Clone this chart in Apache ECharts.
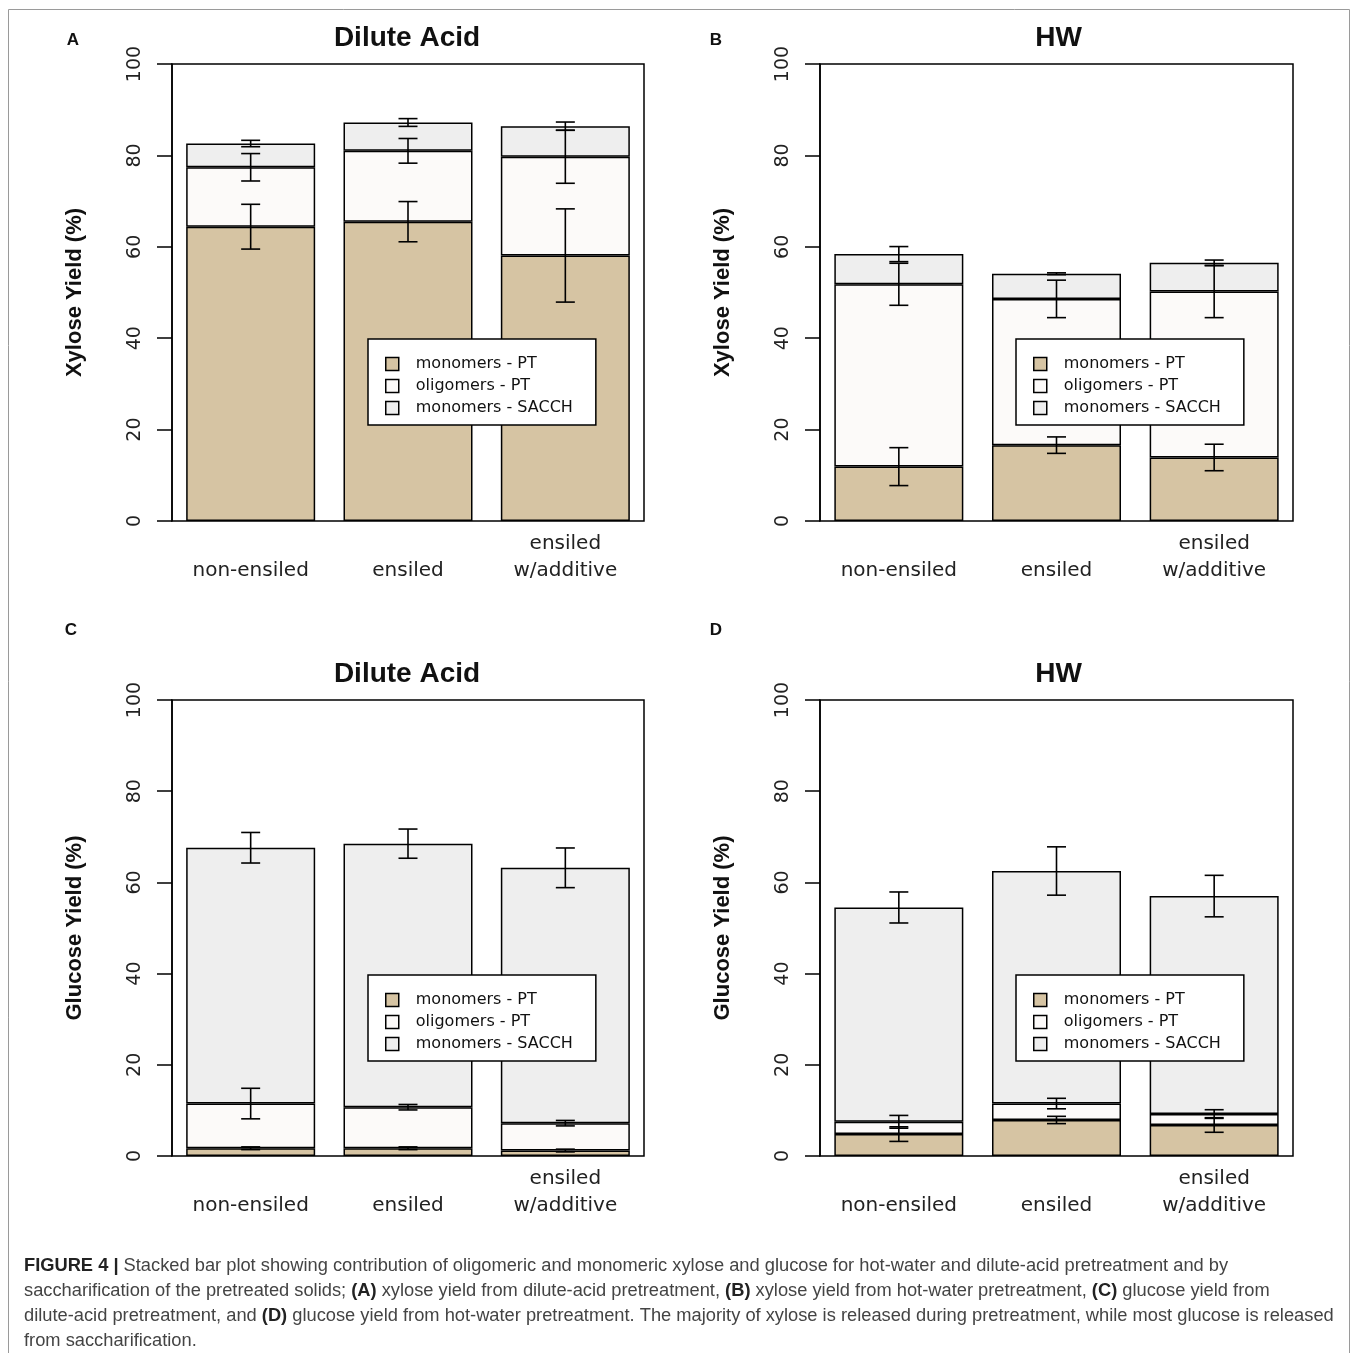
<!DOCTYPE html>
<html>
<head>
<meta charset="utf-8">
<script src="https://cdn.jsdelivr.net/npm/echarts@6/dist/echarts.min.js"></script>
<style>
  html, body { margin: 0; padding: 0; background: #fff; }
  #main { width: 1358px; height: 1353px; }
</style>
</head>
<body>
<div id="main"></div>
<script>
// categories and legend names
var categories = ['non-ensiled', 'ensiled', 'ensiled\nw/additive'];
var seriesNames = ['monomers - PT', 'oligomers - PT', 'monomers - SACCH'];
var yTicks = [0, 20, 40, 60, 80, 100];

// A: xylose, dilute acid (segment heights, %)
var xylDA_mono = [64.4, 65.5, 58.1];
var xylDA_oligo = [13.0, 15.5, 21.6];
var xylDA_sacch = [5.2, 6.2, 6.7];
var xylDA_monoSd = [4.9, 4.4, 10.2];
var xylDA_oligoSd = [3.0, 2.7, 5.8];
var xylDA_sacchSd = [0.7, 0.85, 0.9];

// B: xylose, hot water
var xylHW_mono = [11.9, 16.6, 13.9];
var xylHW_oligo = [39.9, 32.0, 36.3];
var xylHW_sacch = [6.6, 5.5, 6.3];
var xylHW_monoSd = [4.15, 1.8, 2.9];
var xylHW_oligoSd = [4.6, 4.1, 5.7];
var xylHW_sacchSd = [1.65, 0.2, 0.6];

// C: glucose, dilute acid
var gluDA_mono = [1.7, 1.7, 1.2];
var gluDA_oligo = [9.8, 9.0, 6.0];
var gluDA_sacch = [56.1, 57.8, 56.0];
var gluDA_monoSd = [0.3, 0.3, 0.3];
var gluDA_oligoSd = [3.35, 0.6, 0.6];
var gluDA_sacchSd = [3.35, 3.2, 4.35];

// D: glucose, hot water
var gluHW_mono = [4.8, 7.9, 6.8];
var gluHW_oligo = [2.7, 3.6, 2.4];
var gluHW_sacch = [47.0, 51.0, 47.8];
var gluHW_monoSd = [1.6, 0.8, 1.6];
var gluHW_oligoSd = [1.4, 1.15, 0.95];
var gluHW_sacchSd = [3.4, 5.3, 4.55];

var colors = ['#d6c4a3', '#fcfaf9', '#eeeeee'];

var myChart = echarts.init(document.getElementById('main'));

var panels = [
    {title: 'Dilute Acid', letter: 'A', lx: 73, ly: 40, yName: 'Xylose Yield (%)', left: 172, top: 64, width: 472, height: 457,
        vals: [xylDA_mono, xylDA_oligo, xylDA_sacch], sds: [xylDA_monoSd, xylDA_oligoSd, xylDA_sacchSd]},
    {title: 'HW', letter: 'B', lx: 716, ly: 40, yName: 'Xylose Yield (%)', left: 820, top: 64, width: 473, height: 457,
        vals: [xylHW_mono, xylHW_oligo, xylHW_sacch], sds: [xylHW_monoSd, xylHW_oligoSd, xylHW_sacchSd]},
    {title: 'Dilute Acid', letter: 'C', lx: 71, ly: 630, yName: 'Glucose Yield (%)', left: 172, top: 700, width: 472, height: 456,
        vals: [gluDA_mono, gluDA_oligo, gluDA_sacch], sds: [gluDA_monoSd, gluDA_oligoSd, gluDA_sacchSd]},
    {title: 'HW', letter: 'D', lx: 716, ly: 630, yName: 'Glucose Yield (%)', left: 820, top: 700, width: 473, height: 456,
        vals: [gluHW_mono, gluHW_oligo, gluHW_sacch], sds: [gluHW_monoSd, gluHW_oligoSd, gluHW_sacchSd]}
];

var grids = [], xAxes = [], yAxes = [], series = [], legends = [], graphics = [];

function errorBarItem(params, api) {
    var cx = api.coord([api.value(0), 0])[0];
    var hi = api.coord([api.value(0), api.value(1) + api.value(2)])[1];
    var lo = api.coord([api.value(0), api.value(1) - api.value(2)])[1];
    var half = 9.5;
    var st = {stroke: '#000', lineWidth: 1.6};
    return {
        type: 'group',
        children: [
            {type: 'line', shape: {x1: cx, y1: hi, x2: cx, y2: lo}, style: st},
            {type: 'line', shape: {x1: cx - half, y1: hi, x2: cx + half, y2: hi}, style: st},
            {type: 'line', shape: {x1: cx - half, y1: lo, x2: cx + half, y2: lo}, style: st}
        ]
    };
}

panels.forEach(function (p, i) {
    grids.push({left: p.left, top: p.top, width: p.width, height: p.height,
        show: true, borderColor: '#000', borderWidth: 1.5, backgroundColor: 'transparent'});
    xAxes.push({
        type: 'category', gridIndex: i, data: categories,
        axisLine: {show: false}, axisTick: {show: false},
        axisLabel: {fontFamily: 'DejaVu Sans', fontSize: 20, color: '#222', lineHeight: 27,
            verticalAlign: 'bottom', margin: 63}
    });
    yAxes.push({
        type: 'value', gridIndex: i, min: 0, max: 100, interval: 20,
        name: p.yName, nameLocation: 'middle', nameRotate: 90, nameGap: 86,
        nameTextStyle: {fontFamily: 'Liberation Sans', fontWeight: 'bold', fontSize: 22, color: '#111'},
        splitLine: {show: false},
        axisLine: {show: true, lineStyle: {color: '#000', width: 1.5}},
        axisTick: {show: true, length: 15, lineStyle: {color: '#000', width: 1.5}},
        axisLabel: {rotate: 90, margin: 27, fontFamily: 'DejaVu Sans', fontSize: 19, color: '#222',
            formatter: function (v) { return yTicks.indexOf(v) >= 0 ? String(v) : ''; }}
    });

    // stacked segments
    var errData = [];
    var cum = [0, 0, 0];
    p.vals.forEach(function (arr, k) {
        series.push({
            name: seriesNames[k], type: 'bar', stack: 'p' + i,
            xAxisIndex: i, yAxisIndex: i, barWidth: 129,
            itemStyle: {color: colors[k], borderColor: '#000', borderWidth: 1.5},
            data: arr
        });
        arr.forEach(function (v, j) {
            cum[j] += v;
            errData.push([j, cum[j], p.sds[k][j]]);
        });
    });
    series.push({
        type: 'custom', xAxisIndex: i, yAxisIndex: i, z: 5,
        renderItem: errorBarItem, data: errData, silent: true
    });

    legends.push({
        data: seriesNames, orient: 'vertical',
        left: p.left + 196, top: p.top + 275,
        backgroundColor: '#fff', borderColor: '#000', borderWidth: 1.5,
        padding: [17, 23, 9, 17], itemGap: 6, itemWidth: 13, itemHeight: 13,
        icon: 'rect', selectedMode: false,
        itemStyle: {borderColor: '#000', borderWidth: 1.5},
        textStyle: {fontFamily: 'DejaVu Sans', fontSize: 16, color: '#111', padding: [0, 0, 0, 12]}
    });

    graphics.push({
        type: 'text', x: p.left + p.width / 2 - 1 + (i % 2 ? 3 : 0), y: p.top - 26,
        style: {text: p.title, font: 'bold 28px "Liberation Sans"', fill: '#111',
            align: 'center', verticalAlign: 'middle', textAlign: 'center', textVerticalAlign: 'middle'}
    });
    graphics.push({
        type: 'text', x: p.lx, y: p.ly,
        style: {text: p.letter, font: 'bold 17px "Liberation Sans"', fill: '#111',
            align: 'center', verticalAlign: 'middle', textAlign: 'center', textVerticalAlign: 'middle'}
    });
});

// frame
graphics.push({
    type: 'rect', shape: {x: 8.5, y: 9.5, width: 1341, height: 1400},
    style: {fill: 'none', stroke: '#9a9a9a', lineWidth: 1}
});

// caption
graphics.push({
    type: 'text', x: 24, y: 1253,
    style: {
        text: '{b|FIGURE 4 |} Stacked bar plot showing contribution of oligomeric and monomeric xylose and glucose for hot-water and dilute-acid pretreatment and by\n' +
            'saccharification of the pretreated solids; {b|(A)} xylose yield from dilute-acid pretreatment, {b|(B)} xylose yield from hot-water pretreatment, {b|(C)} glucose yield from\n' +
            'dilute-acid pretreatment, and {b|(D)} glucose yield from hot-water pretreatment. The majority of xylose is released during pretreatment, while most glucose is released\n' +
            'from saccharification.',
        font: '18.3px "Liberation Sans"', fill: '#444', lineHeight: 25,
        rich: {b: {fontWeight: 'bold', fontFamily: 'Liberation Sans', fontSize: 18.3, fill: '#222', lineHeight: 25}}
    }
});

var option = {
    animation: false,
    backgroundColor: '#fff',
    grid: grids,
    xAxis: xAxes,
    yAxis: yAxes,
    legend: legends,
    series: series,
    graphic: graphics
};

myChart.setOption(option);
</script>
</body>
</html>
